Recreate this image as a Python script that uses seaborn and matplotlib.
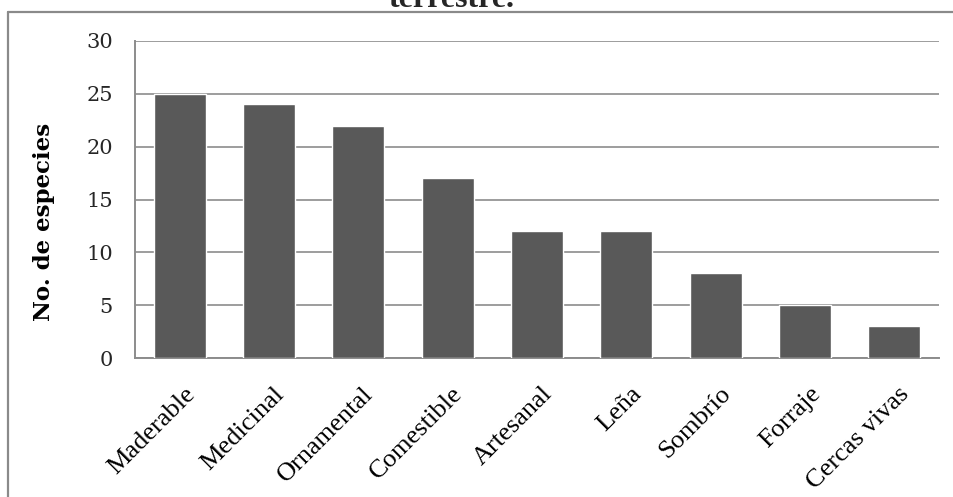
import matplotlib
matplotlib.use("Agg")
import matplotlib.pyplot as plt
import matplotlib.transforms as mtransforms
from matplotlib.lines import Line2D
import seaborn as sns
import pandas as pd

usos = ["Maderable", "Medicinal", "Ornamental", "Comestible", "Artesanal",
        "Leña", "Sombrío", "Forraje", "Cercas vivas"]
especies = [25, 24, 22, 17, 12, 12, 8, 5, 3]
y_ticks = [0, 5, 10, 15, 20, 25, 30]

df = pd.DataFrame({"uso": usos, "especies": especies})

sns.set_theme(style="white")
plt.rcParams["font.family"] = ["Liberation Serif", "DejaVu Serif"]

W, H = 954, 497
fig = plt.figure(figsize=(W / 100, H / 100), dpi=100)
ax = fig.add_axes([135 / W, 1 - 358 / H, (939 - 135) / W, (358 - 41) / H])

sns.barplot(data=df, x="uso", y="especies", color="#595959", saturation=1,
            width=0.58, ax=ax, zorder=3)

grid_c = "#8c8c8c"
ax.set_ylim(0, 30)
ax.set_yticks(y_ticks)
ax.set_yticklabels([str(v) for v in y_ticks], family="DejaVu Serif", fontsize=15)
ax.yaxis.grid(True, color=grid_c, linewidth=1.2, zorder=0)
ax.set_axisbelow(True)
ax.tick_params(axis="both", length=0)
ax.tick_params(axis="y", pad=16)
ax.tick_params(axis="x", pad=18)
ax.set_xlim(-0.5, len(usos) - 0.5)
shift = mtransforms.ScaledTranslation(4 / 100, 0, fig.dpi_scale_trans)
for lab in ax.get_xticklabels():
    lab.set_rotation(45)
    lab.set_ha("right")
    lab.set_rotation_mode("anchor")
    lab.set_fontsize(19)
    lab.set_color("black")
    lab.set_transform(lab.get_transform() + shift)

for s in ["top", "right"]:
    ax.spines[s].set_visible(False)
for s in ["left", "bottom"]:
    ax.spines[s].set_color(grid_c)
    ax.spines[s].set_linewidth(1.4)

ax.set_xlabel("")
ax.set_ylabel("No. de especies", family="DejaVu Serif", fontweight="bold",
              fontsize=16.5, color="black")
ax.yaxis.set_label_coords((55 - 135) / 804, (358 - 222) / 317)

# outer chart frame
frame_c = "#8a8a8a"
yt = 1 - 12 / H
xl = 8 / W
fig.add_artist(Line2D([xl, 1], [yt, yt], transform=fig.transFigure,
                      color=frame_c, linewidth=1.6))
fig.add_artist(Line2D([xl, xl], [0, yt], transform=fig.transFigure,
                      color=frame_c, linewidth=1.6))

fig.text(452 / W, 1 - 7 / H, "terrestre.", ha="center", va="baseline",
         fontsize=23, fontweight="bold", family="Liberation Serif")

fig.savefig("out.png", dpi=100)
